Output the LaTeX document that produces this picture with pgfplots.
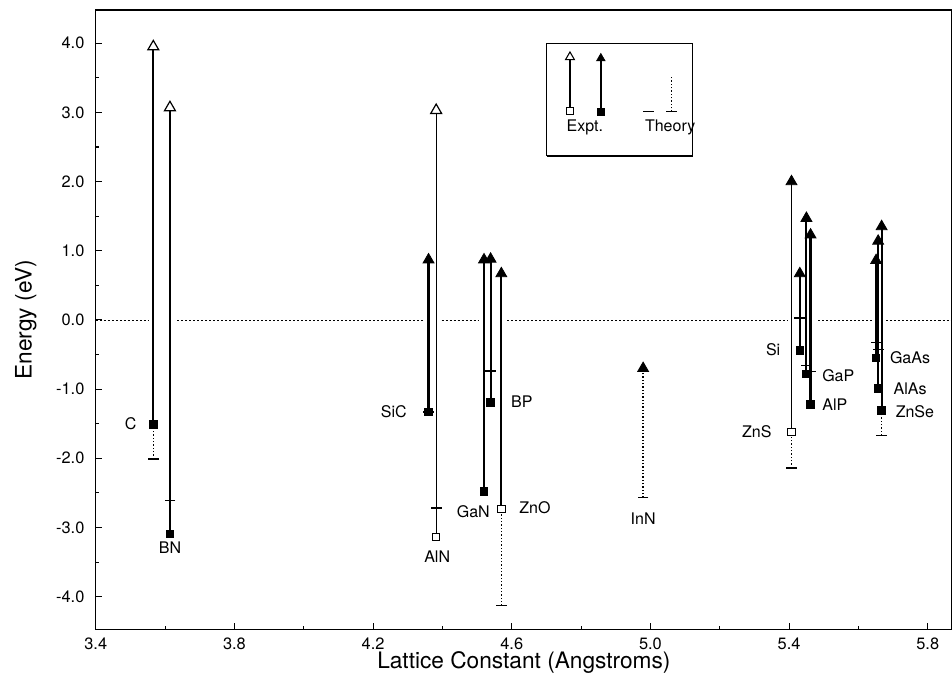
\documentclass[border=0pt]{standalone}
\usepackage{pgfplots}
\pgfplotsset{compat=1.18}
\usepackage{fontspec}
\setmainfont{TeX Gyre Heros}

% line styles
\tikzset{
  expthick/.style={black, line width=1.6pt},
  expmed/.style={black, line width=1.3pt},
  expthin/.style={black, line width=0.9pt},
  theo/.style={black, line width=1.1pt, dash pattern=on 1pt off 1.5pt},
  lbl/.style={font=\fontsize{12}{14}\selectfont, inner sep=0pt},
}

\begin{document}
\begin{tikzpicture}
\begin{axis}[
  scale only axis, width=642pt, height=464.25pt,
  xmin=3.4, xmax=5.87, ymin=-4.47, ymax=4.48,
  xtick={3.4,3.8,4.2,4.6,5.0,5.4,5.8},
  ytick={-4,-3,-2,-1,0,1,2,3,4},
  minor x tick num=1, minor y tick num=1,
  xtick pos=bottom, ytick pos=left,
  tick align=inside,
  major tick length=4.5pt, minor tick length=2.5pt,
  axis line style={line width=1pt},
  every tick/.style={black, line width=0.8pt},
  /pgf/number format/assume math mode=true,
  /pgf/number format/fixed,
  /pgf/number format/fixed zerofill,
  /pgf/number format/precision=1,
  tick label style={font=\fontsize{12.3}{14}\selectfont},
  yticklabel style={xshift=-5pt},
  xticklabel style={inner sep=1pt, yshift=-5pt},
  xlabel={Lattice Constant (Angstroms)},
  ylabel={Energy (eV)},
  label style={font=\fontsize{17}{20}\selectfont},
  xlabel style={at={(axis description cs:0.5,0)}, anchor=center, inner sep=0pt, yshift=-25pt},
  ylabel style={at={(axis description cs:-0.0818,0.5)}, anchor=center},
  clip=false,
]

% zero line, broken around the vertical bars
\addplot[black, line width=0.6pt, dash pattern=on 1.5pt off 1.5pt, unbounded coords=jump]
  coordinates {(3.4,0) (3.552,0) (3.6,nan) (3.635,0) (4.345,0) (4.37,nan)
               (4.398,0) (4.504,0) (4.55,nan) (4.587,0) (5.398,0) (5.44,nan)
               (5.484,0) (5.638,0) (5.66,nan) (5.681,0) (5.87,0)};

% theory: dotted lines
\addplot[theo] coordinates {(3.566,-2.01) (3.566,-1.51)};
\addplot[theo] coordinates {(4.570,-4.13) (4.570,-2.73)};
\addplot[theo] coordinates {(4.979,-2.57) (4.979,-0.70)};
\addplot[theo] coordinates {(5.407,-2.14) (5.407,-1.62)};
\addplot[theo] coordinates {(5.667,-1.67) (5.667,-1.31)};

% experiment: bars from valence to conduction band
\addplot[expmed] coordinates {(3.566,-1.51) (3.566,3.95)};
\addplot[expmed] coordinates {(3.614,-3.09) (3.614,3.07)};
\addplot[expmed] coordinates {(4.570,-2.73) (4.570,0.67)};
\addplot[expthin] coordinates {(4.382,-3.14) (4.382,3.03)};
\addplot[expthin] coordinates {(5.407,-1.62) (5.407,2.00)};
\addplot[expthick] coordinates {(4.360,-1.33) (4.360,0.87)};
\addplot[expthick] coordinates {(4.520,-2.48) (4.520,0.87)};
\addplot[expthick] coordinates {(4.539,-1.19) (4.539,0.88)};
\addplot[expthick] coordinates {(5.431,-0.44) (5.431,0.67)};
\addplot[expthick] coordinates {(5.450,-0.78) (5.450,1.47)};
\addplot[expthick] coordinates {(5.462,-1.22) (5.462,1.23)};
\addplot[expthick] coordinates {(5.651,-0.55) (5.651,0.86)};
\addplot[expthick] coordinates {(5.657,-0.99) (5.657,1.14)};
\addplot[expthick] coordinates {(5.667,-1.31) (5.667,1.35)};

% theory values
\addplot[only marks, mark=-, mark size=4pt, mark options={line width=1pt}]
  coordinates {(3.566,-2.01) (3.614,-2.61) (4.360,-1.33) (4.382,-2.72)
               (4.539,-0.74) (4.570,-4.13) (4.979,-2.57) (5.407,-2.14)
               (5.431,0.03) (5.450,-0.66) (5.462,-0.75) (5.651,-0.33)
               (5.657,-0.43) (5.667,-1.67)};

% valence band markers
\addplot[only marks, mark=square*, mark size=2.8pt, mark options={fill=black, line width=0.6pt}]
  coordinates {(3.566,-1.51) (3.614,-3.09) (4.360,-1.33) (4.520,-2.48)
               (4.539,-1.19) (5.431,-0.44) (5.450,-0.78) (5.462,-1.22)
               (5.651,-0.55) (5.657,-0.99) (5.667,-1.31)};
\addplot[only marks, mark=square*, mark size=2.8pt, mark options={fill=white, line width=0.8pt}]
  coordinates {(4.382,-3.14) (4.570,-2.73) (5.407,-1.62)};

% conduction band markers
\addplot[only marks, mark=triangle*, mark size=4.7pt, mark options={fill=black, line width=0.6pt}]
  coordinates {(4.360,0.87) (4.520,0.87) (4.539,0.88) (4.570,0.67)
               (4.979,-0.70) (5.407,2.00) (5.431,0.67) (5.450,1.47)
               (5.462,1.23) (5.651,0.86) (5.657,1.14) (5.667,1.35)};
\addplot[only marks, mark=triangle*, mark size=4.7pt, mark options={fill=white, line width=0.9pt}]
  coordinates {(3.566,3.95) (3.614,3.07) (4.382,3.03)};

% material labels
\node[lbl] at (axis cs:3.501,-1.50) {C};
\node[lbl] at (axis cs:3.614,-3.29) {BN};
\node[lbl] at (axis cs:4.260,-1.325) {SiC};
\node[lbl] at (axis cs:4.385,-3.42) {AlN};
\node[lbl] at (axis cs:4.489,-2.77) {GaN};
\node[lbl] at (axis cs:4.629,-1.18) {BP};
\node[lbl] at (axis cs:4.667,-2.72) {ZnO};
\node[lbl] at (axis cs:4.979,-2.87) {InN};
\node[lbl] at (axis cs:5.307,-1.61) {ZnS};
\node[lbl] at (axis cs:5.354,-0.43) {Si};
\node[lbl] at (axis cs:5.542,-0.81) {GaP};
\node[lbl] at (axis cs:5.532,-1.23) {AlP};
\node[lbl] at (axis cs:5.749,-0.55) {GaAs};
\node[lbl] at (axis cs:5.749,-0.99) {AlAs};
\node[lbl] at (axis cs:5.763,-1.325) {ZnSe};

% key box
\addplot[black, line width=0.8pt] coordinates {(4.701,2.37) (5.122,2.37) (5.122,4.00) (4.701,4.00) (4.701,2.37)};
\addplot[expthin] coordinates {(4.768,3.02) (4.768,3.80)};
\addplot[expthick] coordinates {(4.857,3.01) (4.857,3.78)};
\addplot[only marks, mark=square*, mark size=2.5pt, mark options={fill=white, line width=0.8pt}] coordinates {(4.768,3.02)};
\addplot[only marks, mark=square*, mark size=2.5pt, mark options={fill=black}] coordinates {(4.857,3.01)};
\addplot[only marks, mark=triangle*, mark size=3.8pt, mark options={fill=white, line width=0.8pt}] coordinates {(4.768,3.80)};
\addplot[only marks, mark=triangle*, mark size=3.8pt, mark options={fill=black}] coordinates {(4.857,3.78)};
\addplot[theo, line width=0.9pt] coordinates {(5.061,3.01) (5.061,3.52)};
\addplot[only marks, mark=-, mark size=4pt, mark options={line width=1pt}] coordinates {(4.994,3.01) (5.061,3.01)};
\node[lbl] at (axis cs:4.811,2.79) {Expt.};
\node[lbl] at (axis cs:5.057,2.79) {Theory};

\end{axis}
\pgfresetboundingbox
\path ([xshift=-71.8pt,yshift=-39pt]current axis.south west) rectangle ([yshift=7.5pt]current axis.north east);
\end{tikzpicture}
\end{document}
